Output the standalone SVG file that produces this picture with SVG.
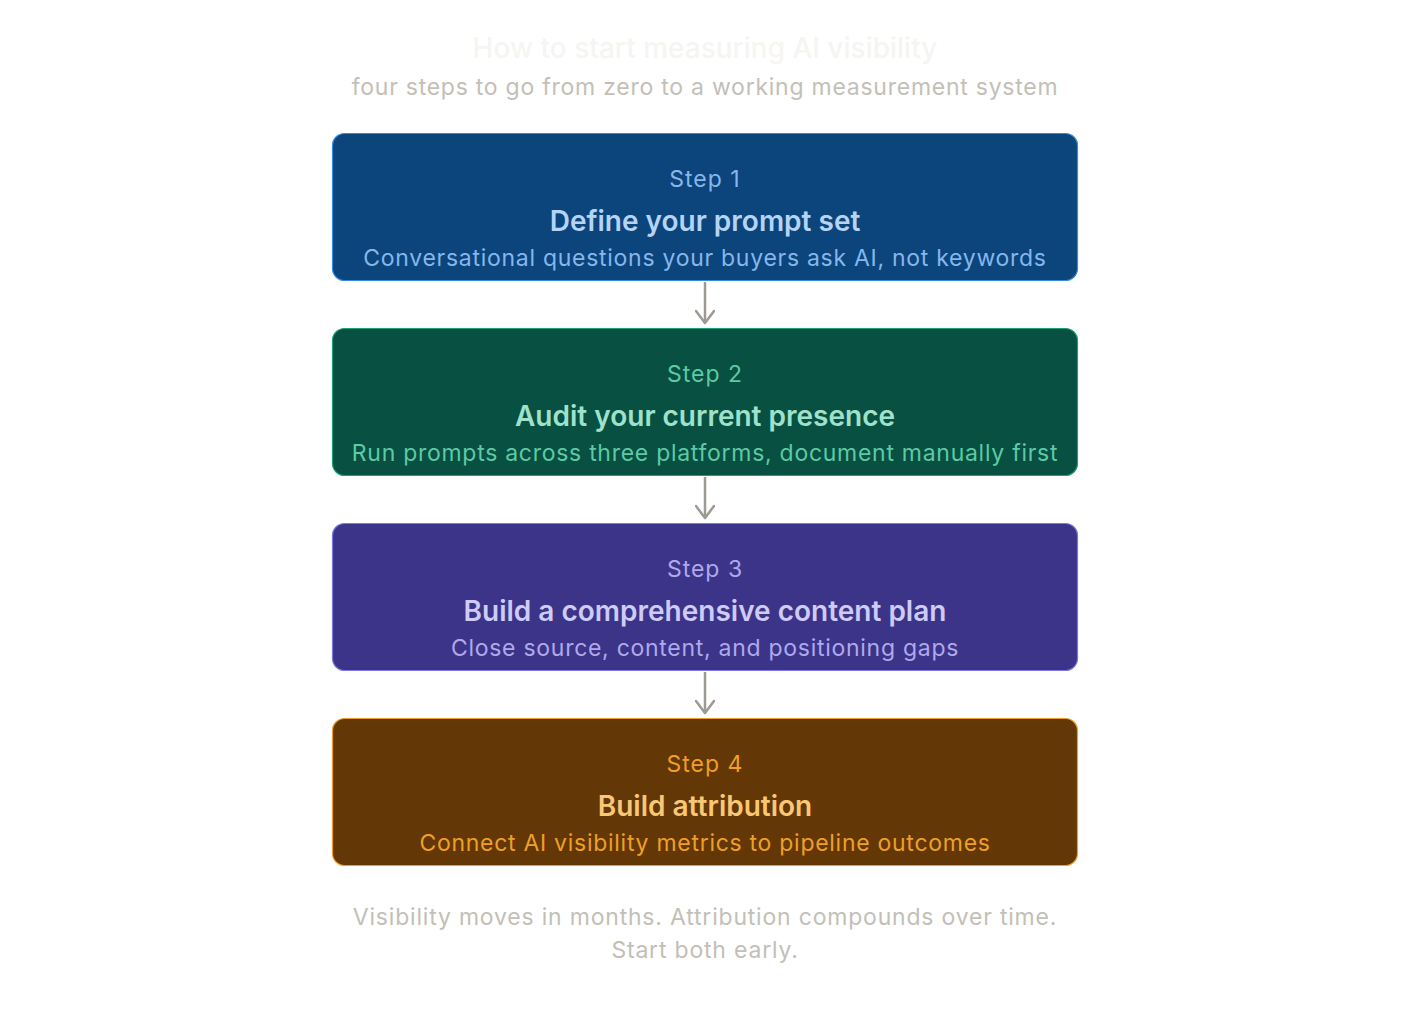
<svg xmlns="http://www.w3.org/2000/svg" width="1410" height="1016" viewBox="0 0 1410 1016">
<defs>
<marker id="arr" viewBox="0 0 20 20" refX="17" refY="10" markerWidth="20" markerHeight="20" markerUnits="userSpaceOnUse" orient="auto">
<path d="M5,1 L17,10 L5,19" fill="none" stroke="#9c9a92" stroke-width="2.5" stroke-linecap="round" stroke-linejoin="round"/>
</marker>
<style>
text{font-family:Inter,"Noto Sans","Liberation Sans",sans-serif;text-anchor:middle}
.title{font-size:28px;fill:#f6f5f1;font-weight:500}
.sub{font-size:23px;fill:#c2c0b6;letter-spacing:0.75px}
.step{font-size:23px;letter-spacing:1px}
.head{font-size:28px;font-weight:600}
.desc{font-size:23px;letter-spacing:0.72px}
.foot{font-size:23px;fill:#c2c0b6;letter-spacing:0.8px}
.conn{stroke:#9c9a92;stroke-width:2.5;fill:none}
</style>
</defs>
<rect width="1410" height="1016" fill="#ffffff"/>
<text class="title" x="705" y="58">How to start measuring AI visibility</text>
<text class="sub" x="705" y="95">four steps to go from zero to a working measurement system</text>
<g id="step1">
<rect x="332.5" y="133.5" width="745" height="147" rx="12" fill="#0c447c" stroke="#378add" stroke-width="1.2"/>
<text class="step" x="705" y="187" fill="#85b7eb">Step 1</text>
<text class="head" x="705" y="231" fill="#b5d4f4">Define your prompt set</text>
<text class="desc" x="705" y="266" fill="#85b7eb">Conversational questions your buyers ask AI, not keywords</text>
</g>
<g id="step2">
<rect x="332.5" y="328.5" width="745" height="147" rx="12" fill="#085041" stroke="#1d9e75" stroke-width="1.2"/>
<text class="step" x="705" y="382" fill="#5dcaa5">Step 2</text>
<text class="head" x="705" y="426" fill="#9fe1cb">Audit your current presence</text>
<text class="desc" x="705" y="461" fill="#5dcaa5">Run prompts across three platforms, document manually first</text>
</g>
<g id="step3">
<rect x="332.5" y="523.5" width="745" height="147" rx="12" fill="#3c3489" stroke="#7f77dd" stroke-width="1.2"/>
<text class="step" x="705" y="577" fill="#afa9ec">Step 3</text>
<text class="head" x="705" y="621" fill="#cecbf6">Build a comprehensive content plan</text>
<text class="desc" x="705" y="656" fill="#afa9ec">Close source, content, and positioning gaps</text>
</g>
<g id="step4">
<rect x="332.5" y="718.5" width="745" height="147" rx="12" fill="#633806" stroke="#ef9f27" stroke-width="1.2"/>
<text class="step" x="705" y="772" fill="#ef9f27">Step 4</text>
<text class="head" x="705" y="816" fill="#fac775">Build attribution</text>
<text class="desc" x="705" y="851" fill="#ef9f27">Connect AI visibility metrics to pipeline outcomes</text>
</g>
<g id="connectors">
<line class="conn" x1="705" y1="282" x2="705" y2="323" marker-end="url(#arr)"/>
<line class="conn" x1="705" y1="477" x2="705" y2="518" marker-end="url(#arr)"/>
<line class="conn" x1="705" y1="672" x2="705" y2="713" marker-end="url(#arr)"/>
</g>
<text class="foot" x="705" y="925">Visibility moves in months. Attribution compounds over time.</text>
<text class="foot" x="705" y="958">Start both early.</text>
</svg>
